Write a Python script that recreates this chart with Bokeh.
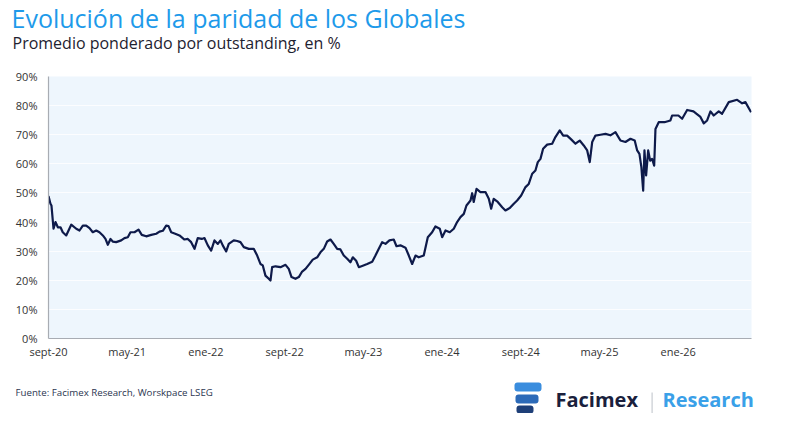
from bokeh.plotting import figure
from bokeh.layouts import column, row
from bokeh.models import Range1d, FixedTicker, BoxAnnotation
from bokeh.core.properties import value
from bokeh.embed import file_html
from bokeh.resources import INLINE

# months since Sep-2020
meses = [0.00, 0.20, 0.30, 0.51, 0.71, 0.95, 1.22, 1.45, 1.80, 2.31, 2.82, 3.15, 3.49, 3.83, 4.17,
         4.50, 4.85, 5.18, 5.52, 5.79, 6.03, 6.30, 6.53, 6.88, 7.39, 7.72, 8.06, 8.33, 8.74, 9.15,
         9.48, 9.93, 10.44, 10.95, 11.28, 11.62, 11.96, 12.20, 12.47, 12.88, 13.31, 13.82, 14.16,
         14.50, 14.84, 15.17, 15.58, 15.85, 16.19, 16.53, 16.87, 17.21, 17.48, 17.71, 18.06, 18.32,
         18.83, 19.18, 19.51, 19.85, 20.36, 20.86, 21.21, 21.54, 21.78, 22.05, 22.39, 22.56, 22.73,
         23.07, 23.58, 24.09, 24.42, 24.70, 25.10, 25.44, 25.78, 26.12, 26.45, 26.86, 27.31, 27.64,
         27.98, 28.32, 28.66, 28.99, 29.34, 29.67, 30.01, 30.36, 30.69, 30.93, 31.27, 31.54, 31.94,
         32.39, 32.90, 33.23, 33.57, 33.91, 34.25, 34.65, 35.09, 35.37, 35.77, 36.28, 36.62, 36.96,
         37.30, 37.63, 38.14, 38.55, 38.99, 39.33, 39.77, 40.01, 40.35, 40.78, 41.19, 41.53, 41.87,
         42.21, 42.48, 42.89, 43.06, 43.22, 43.50, 43.90, 44.41, 44.75, 44.99, 45.25, 45.66, 46.11,
         46.44, 46.88, 47.29, 47.63, 48.04, 48.48, 48.81, 49.16, 49.49, 49.73, 50.00, 50.27, 50.68,
         51.19, 51.52, 51.96, 52.31, 52.71, 53.12, 53.56, 53.99, 54.40, 54.75, 55.01, 55.26, 55.59,
         56.10, 56.61, 57.11, 57.62, 58.13, 58.64, 59.15, 59.58, 59.83, 60.06, 60.26, 60.44, 60.57,
         60.74, 60.95, 61.15, 61.35, 61.56, 61.69, 62.02, 62.60, 63.21, 63.38, 64.02, 64.40, 64.91,
         65.55, 66.26, 66.60, 66.94, 67.28, 67.61, 68.12, 68.46, 69.14, 69.99, 70.50, 70.83, 71.41]

paridad = [48.9, 46.3, 45.7, 37.7, 40.0, 38.2, 38.2, 36.5, 35.4, 39.1, 37.7, 37.1, 38.8, 38.8, 37.9,
           36.5, 37.1, 36.5, 35.4, 34.2, 32.2, 34.2, 33.3, 33.1, 33.7, 34.5, 34.8, 36.5, 36.5, 37.4,
           35.6, 35.1, 35.6, 36.0, 36.7, 37.0, 38.8, 38.6, 36.5, 36.0, 35.4, 34.0, 34.2,
           33.1, 30.8, 34.5, 34.2, 34.5, 32.0, 30.2, 33.7, 32.5, 33.7, 32.0, 29.9, 32.5,
           33.7, 33.5, 33.1, 31.4, 30.8, 30.8, 28.5, 25.6, 25.1, 21.6, 20.5, 19.9, 24.5,
           24.8, 24.5, 25.3, 23.9, 21.1, 20.5, 21.1, 23.0, 23.9, 25.3, 27.1, 27.9, 29.6,
           30.8, 33.3, 34.0, 32.5, 30.8, 30.6, 28.5, 27.4, 26.2, 27.9, 26.7, 24.5, 25.0,
           25.6, 26.4, 28.5, 30.8, 33.1, 32.5, 33.7, 34.0, 31.7, 32.0, 31.2, 28.5, 25.6,
           28.5, 27.9, 28.5, 34.8, 36.5, 38.5, 37.7, 34.8, 37.1, 36.5, 37.7, 40.0, 41.7,
           42.8, 45.7, 47.4, 49.9, 46.9, 51.4, 50.3, 50.3, 48.0, 44.6, 48.0, 46.9, 45.1,
           44.0, 44.8, 46.3, 47.4, 49.1, 52.0, 53.1, 56.6, 57.7, 60.6, 61.7, 65.2, 66.6,
           66.9, 69.2, 71.5, 69.7, 69.7, 68.4, 66.9, 68.0, 66.3, 64.6, 60.6, 67.5, 69.7,
           70.0, 70.3, 69.8, 70.9, 68.0, 67.5, 68.6, 68.0, 64.6, 63.4, 58.8, 50.8, 64.6,
           56.0, 64.6, 61.1, 61.7, 59.4, 72.0, 74.3, 74.3, 74.9, 76.6, 76.6, 75.5, 78.5,
           78.0, 76.1, 73.9, 74.9, 78.0, 76.6, 78.0, 77.2, 81.2, 82.0, 80.8, 81.2, 77.7]

tick_pos = [0, 8, 16, 24, 32, 40, 48, 56, 64]
tick_lab = ["sept-20", "may-21", "ene-22", "sept-22", "may-23", "ene-24", "sept-24", "may-25", "ene-26"]
y_ticks = [0, 10, 20, 30, 40, 50, 60, 70, 80, 90]

titulo = "Evolución de la paridad de los Globales"
subtitulo = "Promedio ponderado por outstanding, en %"
fuente = "Fuente: Facimex Research, Worskpace LSEG"

FONT = "Open Sans"
W = 784
H_HEAD, H_MAIN, H_FOOT = 66, 298, 49


def blank(h):
    f = figure(width=W, height=h, output_backend="svg", toolbar_location=None,
               x_range=Range1d(0, W), y_range=Range1d(h, 0),
               x_axis_type=None, y_axis_type=None,
               min_border_left=0, min_border_right=0, min_border_top=0, min_border_bottom=0)
    f.outline_line_color = None
    f.grid.visible = False
    f.background_fill_color = "white"
    f.border_fill_color = "white"
    return f


# header
head = blank(H_HEAD)
head.text(x=[11], y=[17.5], text=[titulo], text_font=value(FONT), text_font_size="25px",
          text_color="#1E9AEA", text_baseline="alphabetic")
head.text(x=[12], y=[42], text=[subtitulo], text_font=value(FONT), text_font_size="16px",
          text_color="#1E2230", text_baseline="alphabetic")

# main chart
p = figure(width=W, height=H_MAIN, output_backend="svg", toolbar_location=None,
           x_range=Range1d(0, 71.45), y_range=Range1d(0, 90),
           min_border_left=48, min_border_right=33, min_border_top=10, min_border_bottom=26)
p.background_fill_color = "#EEF6FD"
p.border_fill_color = "white"
p.outline_line_color = None

p.line(meses, paridad, line_color="#0E1A4A", line_width=2.2, line_join="round")

p.xaxis.ticker = FixedTicker(ticks=tick_pos)
p.xaxis.major_label_overrides = {t: l for t, l in zip(tick_pos, tick_lab)}
p.yaxis.ticker = FixedTicker(ticks=y_ticks)
p.yaxis.major_label_overrides = {t: f"{t}%" for t in y_ticks}
for ax in (p.xaxis, p.yaxis):
    ax.axis_line_color = "#A8ACB3"
    ax.axis_line_width = 1.2
    ax.major_tick_line_color = None
    ax.minor_tick_line_color = None
    ax.major_tick_out = 0
    ax.major_tick_in = 0
    ax.major_label_text_font = FONT
    ax.major_label_text_font_size = "11px"
    ax.major_label_text_color = "#333333"
p.yaxis.major_label_standoff = 11
p.xaxis.major_label_standoff = 5

p.xgrid.visible = False
p.ygrid.grid_line_color = "white"
p.ygrid.grid_line_alpha = 0.8

# footer (y measured from the footer's top, which sits at page y 364)
foot = blank(H_FOOT)
foot.text(x=[15], y=[28], text=[fuente], text_font=value(FONT), text_font_size="9.7px",
          text_color="#2A3550", text_baseline="alphabetic")
foot.text(x=[555], y=[35], text=["Facimex"], text_font=value(FONT), text_font_size="20px",
          text_font_style="bold", text_color="#1A1F3D", text_baseline="alphabetic")
foot.text(x=[662], y=[35], text=["Research"], text_font=value(FONT), text_font_size="20px",
          text_font_style="bold", text_color="#3AA0E8", text_baseline="alphabetic")


def box(l, r, t, b, color, radius=0):
    foot.add_layout(BoxAnnotation(left=l, right=r, top=t, bottom=b,
                                  fill_color=color, fill_alpha=1, line_color=None,
                                  border_radius=radius))


box(651, 652.2, 28, 49, "#C8CCD2")
box(514, 541, 18, 27, "#3A8DDE", 3)
box(515, 538, 30, 39, "#2C6AB8", 3)
box(516, 533, 41, 49, "#1E3F78", 3)

layout = column(row(head), p, row(foot), spacing=0)
open("out.html", "w").write(file_html(layout, INLINE))
